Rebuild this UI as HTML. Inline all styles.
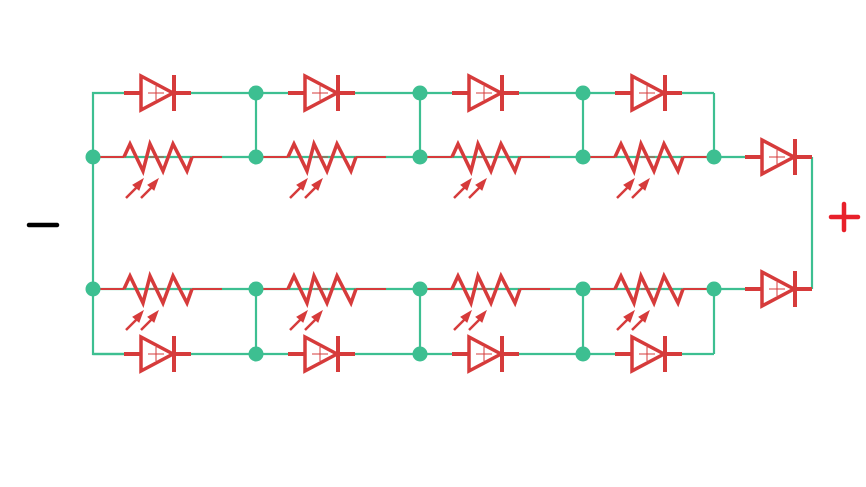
<!DOCTYPE html>
<html><head><meta charset="utf-8"><style>
html,body{margin:0;padding:0;background:#fff;}
svg{display:block;}
</style></head><body>
<svg width="866" height="487" viewBox="0 0 866 487" xmlns="http://www.w3.org/2000/svg">
<defs>
  <g id="diode" stroke="#d63b3b" fill="none">
    <line x1="0" y1="0" x2="67" y2="0" stroke-width="4"/>
    <polygon points="17,-17 17,17 49,0" stroke-width="3.5" fill="#fff"/>
    <line x1="50" y1="-18" x2="50" y2="18" stroke-width="4"/>
    <line x1="52" y1="0" x2="67" y2="0" stroke-width="4"/>
    <line x1="24" y1="0" x2="40" y2="0" stroke-width="1"/>
    <line x1="32" y1="-7" x2="32" y2="7" stroke-width="1"/>
  </g>
  <g id="res" stroke="#d63b3b" fill="none">
    <line x1="-31" y1="0" x2="0" y2="0" stroke-width="2"/>
    <polyline points="0,0 6,-13 19,14 26,-13 39,14 49,-13 63,14 68,0" stroke-width="3.5" stroke-linejoin="miter"/>
    <line x1="68" y1="0" x2="98" y2="0" stroke-width="2"/>
    <line x1="26" y1="0" x2="40" y2="0" stroke-width="1"/>
  </g>
  <g id="arr" stroke="#d63b3b" fill="#d63b3b">
    <line x1="2" y1="40" x2="15" y2="27" stroke-width="2.5"/>
    <polygon points="19,21 9,27 15,32"/>
    <line x1="17" y1="40" x2="30" y2="27" stroke-width="2.5"/>
    <polygon points="34,21 24,27 30,32"/>
  </g>
</defs>
<g stroke="#3dbf91" stroke-width="2.2" fill="none">
  <polyline points="124,93 93,93 93,354 124,354"/>
  <line x1="124" y1="93" x2="714" y2="93"/>
  <line x1="714" y1="93" x2="714" y2="157"/>
  <line x1="93" y1="157" x2="745" y2="157"/>
  <line x1="93" y1="289" x2="745" y2="289"/>
  <line x1="93" y1="354" x2="714" y2="354"/>
  <line x1="714" y1="289" x2="714" y2="354"/>
  <line x1="256" y1="93" x2="256" y2="157"/>
  <line x1="420" y1="93" x2="420" y2="157"/>
  <line x1="583" y1="93" x2="583" y2="157"/>
  <line x1="256" y1="289" x2="256" y2="354"/>
  <line x1="420" y1="289" x2="420" y2="354"/>
  <line x1="583" y1="289" x2="583" y2="354"/>
  <line x1="812" y1="157" x2="812" y2="289"/>
</g>
<g>
  <use href="#diode" x="124" y="93"/><use href="#diode" x="288" y="93"/><use href="#diode" x="452" y="93"/><use href="#diode" x="615" y="93"/>
  <use href="#diode" x="124" y="354"/><use href="#diode" x="288" y="354"/><use href="#diode" x="452" y="354"/><use href="#diode" x="615" y="354"/>
  <use href="#diode" x="745" y="157"/><use href="#diode" x="745" y="289"/>
  <use href="#res" x="124" y="157"/><use href="#res" x="288" y="157"/><use href="#res" x="452" y="157"/><use href="#res" x="615" y="157"/>
  <use href="#res" x="124" y="289"/><use href="#res" x="288" y="289"/><use href="#res" x="452" y="289"/><use href="#res" x="615" y="289"/>
  <use href="#arr" x="124" y="158"/><use href="#arr" x="288" y="158"/><use href="#arr" x="452" y="158"/><use href="#arr" x="615" y="158"/>
  <use href="#arr" x="124" y="290"/><use href="#arr" x="288" y="290"/><use href="#arr" x="452" y="290"/><use href="#arr" x="615" y="290"/>
</g>
<g fill="#3dbf91">
  <circle cx="93" cy="157" r="7.5"/><circle cx="93" cy="289" r="7.5"/>
  <circle cx="256" cy="93" r="7.5"/><circle cx="420" cy="93" r="7.5"/><circle cx="583" cy="93" r="7.5"/>
  <circle cx="256" cy="157" r="7.5"/><circle cx="420" cy="157" r="7.5"/><circle cx="583" cy="157" r="7.5"/><circle cx="714" cy="157" r="7.5"/>
  <circle cx="256" cy="289" r="7.5"/><circle cx="420" cy="289" r="7.5"/><circle cx="583" cy="289" r="7.5"/><circle cx="714" cy="289" r="7.5"/>
  <circle cx="256" cy="354" r="7.5"/><circle cx="420" cy="354" r="7.5"/><circle cx="583" cy="354" r="7.5"/>
</g>
<line x1="29" y1="225" x2="57" y2="225" stroke="#000" stroke-width="4.5" stroke-linecap="round"/>
<line x1="831" y1="217" x2="858" y2="217" stroke="#e8202a" stroke-width="4.5" stroke-linecap="round"/>
<line x1="844" y1="204" x2="844" y2="230" stroke="#e8202a" stroke-width="4.5" stroke-linecap="round"/>
</svg>
</body></html>
